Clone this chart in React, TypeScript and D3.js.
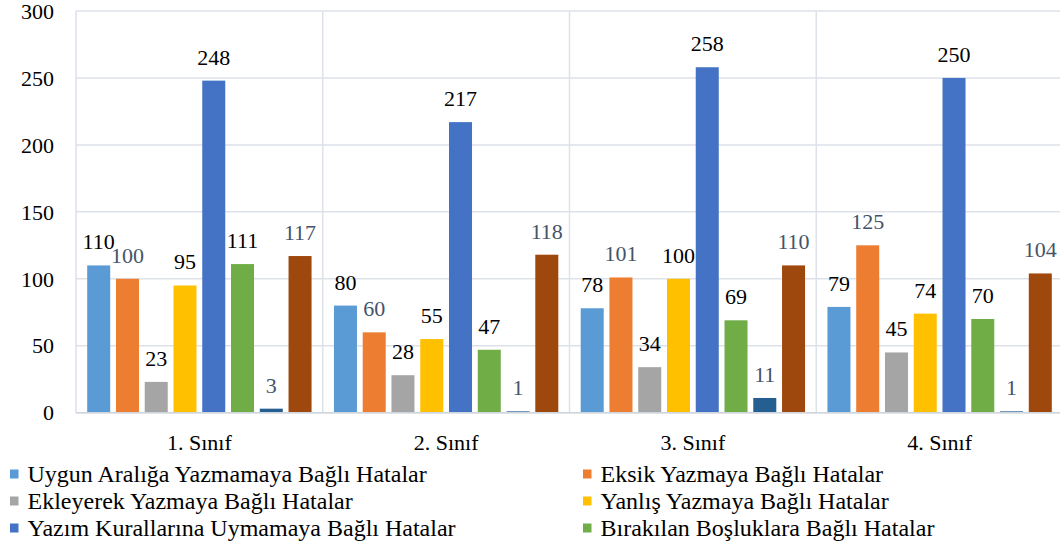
import React from "react";
import * as d3 from "d3";

const categories = ["1. Sınıf", "2. Sınıf", "3. Sınıf", "4. Sınıf"];
const seriesNames = [
  "Uygun Aralığa Yazmamaya Bağlı Hatalar",
  "Eksik Yazmaya Bağlı Hatalar",
  "Ekleyerek Yazmaya Bağlı Hatalar",
  "Yanlış Yazmaya Bağlı Hatalar",
  "Yazım Kurallarına Uymamaya Bağlı Hatalar",
  "Bırakılan Boşluklara Bağlı Hatalar",
  "Seri 7",
  "Seri 8",
];
const uygunAraliga = [110, 80, 78, 79];
const eksik = [100, 60, 101, 125];
const ekleyerek = [23, 28, 34, 45];
const yanlis = [95, 55, 100, 74];
const yazimKurallari = [248, 217, 258, 250];
const birakilan = [111, 47, 69, 70];
const seri7 = [3, 1, 11, 1];
const seri8 = [117, 118, 110, 104];
const seriesValues = [uygunAraliga, eksik, ekleyerek, yanlis, yazimKurallari, birakilan, seri7, seri8];
const colors = ["#5B9BD5", "#ED7D31", "#A5A5A5", "#FFC000", "#4472C4", "#70AD47", "#255E91", "#9E480E"];
const labelColors = ["#000", "#44546A", "#000", "#000", "#000", "#000", "#44546A", "#44546A"];
const yTicks = [0, 50, 100, 150, 200, 250, 300];
const legendCount = 6;

const W = 1060;
const H = 544;
const left = 76;
const right = 1063;
const top = 11;
const bottom = 412.7;
const font = '"Liberation Serif", "DejaVu Serif", "Noto Serif", serif';

export default function App() {
  const x0 = d3.scaleBand<string>().domain(categories).range([left, right]).padding(0);
  const bw = x0.bandwidth();
  const x1 = d3
    .scaleBand<number>()
    .domain(d3.range(seriesNames.length))
    .range([11.2, bw - 11.2])
    .paddingInner(0.2)
    .paddingOuter(0);
  const y = d3.scaleLinear().domain([0, 300]).range([bottom, top]);
  const grid = "#DDE1E8";
  const ts = { fontFamily: font } as React.CSSProperties;

  return (
    <svg width={W} height={H} style={{ position: "absolute", left: 0, top: 0 }}>
      <rect width={W} height={H} fill="#fff" />
      {yTicks.map((t) => (
        <g key={t}>
          <line x1={left} x2={right} y1={y(t)} y2={y(t)} stroke={grid} strokeWidth={1.5} />
          <text x={54} y={y(t)} dy="0.35em" textAnchor="end" fontSize={22} fill="#000" style={ts}>
            {t}
          </text>
        </g>
      ))}
      {categories.map((c, i) => (
        <line key={"v" + i} x1={x0(c)!} x2={x0(c)!} y1={top} y2={bottom} stroke={grid} strokeWidth={1.5} />
      ))}
      <line x1={right} x2={right} y1={top} y2={bottom} stroke={grid} strokeWidth={1.5} />
      {categories.map((c, ci) => (
        <g key={c} transform={`translate(${x0(c)},0)`}>
          {seriesValues.map((vals, si) => {
            const v = vals[ci];
            const bx = x1(si)!;
            return (
              <g key={si}>
                <rect x={bx} y={y(v)} width={x1.bandwidth()} height={bottom - y(v)} fill={colors[si]} />
                <text
                  x={bx + x1.bandwidth() / 2}
                  y={y(v) - 16}
                  textAnchor="middle"
                  fontSize={22}
                  fill={labelColors[si]}
                  style={ts}
                >
                  {v}
                </text>
              </g>
            );
          })}
          <text x={bw / 2} y={442} dy="0.35em" textAnchor="middle" fontSize={22} fill="#000" style={ts}>
            {c}
          </text>
        </g>
      ))}
      <line x1={left} x2={right} y1={bottom} y2={bottom} stroke="#D0D5DE" strokeWidth={1.5} />
      {seriesNames.slice(0, legendCount).map((name, i) => {
        const col = i % 2;
        const row = Math.floor(i / 2);
        const lx = col === 0 ? 10 : 583;
        const ly = 474 + row * 27;
        return (
          <g key={name}>
            <rect x={lx} y={ly - 4.5} width={8.5} height={9} fill={colors[i]} />
            <text x={lx + 17.5} y={ly} dy="0.35em" fontSize={24} fill="#000" style={ts}>
              {name}
            </text>
          </g>
        );
      })}
    </svg>
  );
}
